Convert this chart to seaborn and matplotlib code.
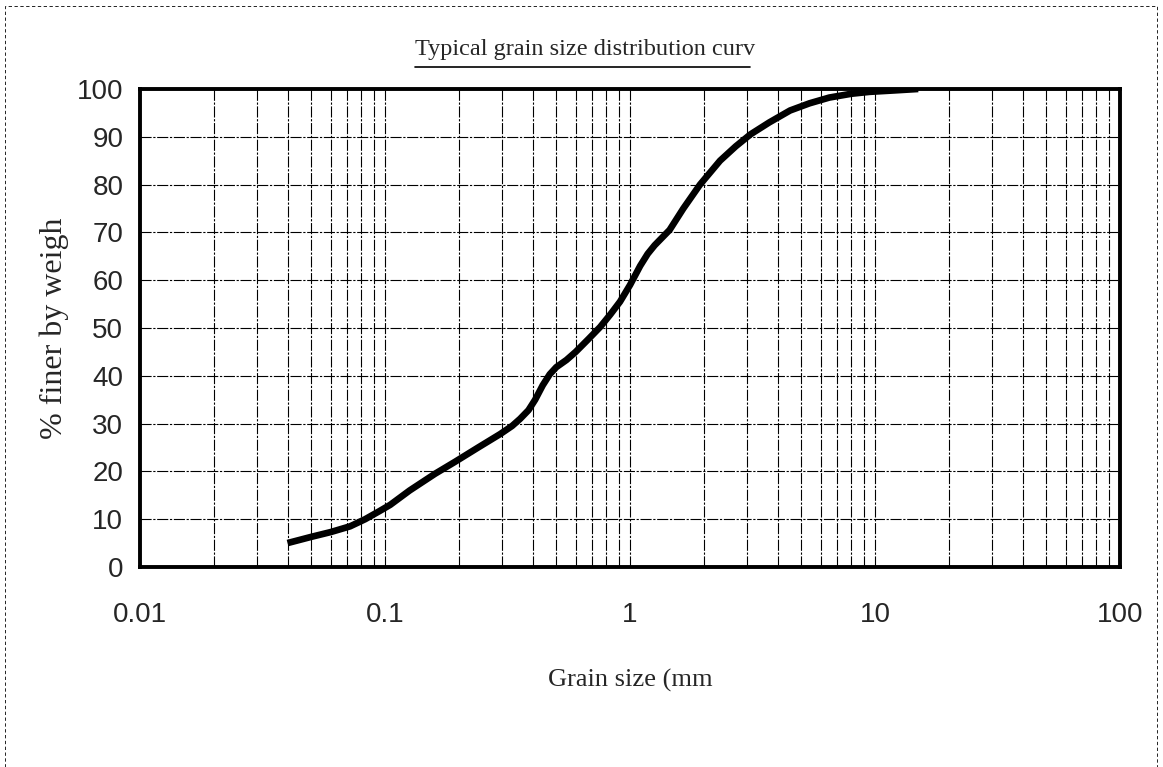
import matplotlib

matplotlib.use("Agg")
import matplotlib.pyplot as plt
import numpy as np
import pandas as pd
import seaborn as sns
from matplotlib.patches import Rectangle
from matplotlib.ticker import FixedLocator, LogLocator, NullFormatter

# grain size (mm) and % passing
grain_size = [0.04, 0.05, 0.06, 0.072, 0.083, 0.095, 0.105, 0.126, 0.16, 0.193,
              0.24, 0.295, 0.33, 0.356, 0.385, 0.41, 0.44, 0.47, 0.5, 0.55,
              0.6, 0.68, 0.755, 0.83, 0.91, 1.0, 1.1, 1.18, 1.26, 1.45,
              1.65, 1.93, 2.33, 2.7, 3.1, 3.7, 4.5, 5.4, 6.5, 8.0, 9.5, 12.0, 15.0]
pct_finer = [5, 6.3, 7.3, 8.5, 10, 11.7, 13, 16, 19.5, 22,
             25, 27.8, 29.5, 31, 32.8, 35, 38, 40.3, 41.8, 43.3,
             45, 47.8, 50.2, 52.8, 55.5, 59, 63, 65.5, 67.3, 70.5,
             75, 80, 85, 88, 90.5, 93, 95.5, 97, 98.2, 99, 99.4, 99.7, 100]

x_ticks = [0.01, 0.1, 1, 10, 100]
x_labels = ["0.01", "0.1", "1", "10", "100"]
y_ticks = list(range(0, 101, 10))

title = "Typical grain size distribution curv"
x_title = "Grain size (mm"
y_title = "% finer by weigh"

df = pd.DataFrame({"size": grain_size, "finer": pct_finer})

sns.set_style("white")
plt.rcParams["font.family"] = ["Liberation Sans Narrow", "Liberation Sans", "DejaVu Sans"]
serif = ["Liberation Serif", "DejaVu Serif"]

fig = plt.figure(figsize=(11.63, 7.67), dpi=100)
ax = fig.add_axes([0.1204, 0.2608, 0.8427, 0.6232])

sns.lineplot(data=df, x="size", y="finer", ax=ax, color="black", lw=4.8,
             solid_capstyle="butt", solid_joinstyle="round", zorder=5)

ax.set_xscale("log")
ax.set_xlim(0.01, 100)
ax.set_ylim(0, 100)
ax.xaxis.set_major_locator(FixedLocator(x_ticks))
ax.set_xticklabels(x_labels)
ax.xaxis.set_minor_locator(LogLocator(base=10, subs=np.arange(2, 10)))
ax.xaxis.set_minor_formatter(NullFormatter())
ax.set_yticks(y_ticks)

ax.grid(which="both", axis="x", color="black", lw=0.8, linestyle=(0, (10, 1.5, 2, 1.5)))
ax.grid(which="major", axis="y", color="black", lw=0.8, linestyle=(0, (10, 1.5, 2, 1.5)))

for s in ax.spines.values():
    s.set_visible(True)
    s.set_color("black")
    s.set_linewidth(2.8)

ax.tick_params(axis="both", which="both", length=0, labelsize=20)
ax.tick_params(axis="x", pad=25)
ax.tick_params(axis="y", pad=12)

ax.set_xlabel(x_title, family=serif, fontsize=19, labelpad=30)
ax.set_ylabel(y_title, family=serif, fontsize=23, labelpad=6)

fig.text(0.503, 0.935, title, family=serif, fontsize=17.5, ha="center", va="center")
fig.add_artist(plt.Line2D([0.357, 0.645], [0.912, 0.912], color="black", lw=1.2))

# dashed outer border of the scanned page
fig.add_artist(Rectangle((0.004, -0.01), 0.991, 1.002, transform=fig.transFigure,
                         fill=False, ec="black", lw=0.6, ls=(0, (4, 3))))

fig.savefig("out.png", dpi=100)
